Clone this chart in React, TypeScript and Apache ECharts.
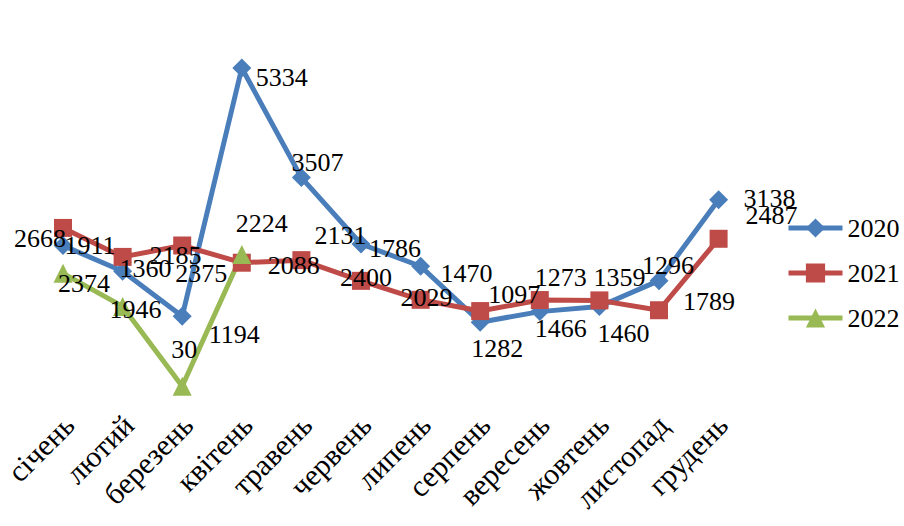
import React, { useEffect, useRef } from "react";
import * as echarts from "echarts";

const months = ["січень", "лютий", "березень", "квітень", "травень", "червень", "липень", "серпень", "вересень", "жовтень", "листопад", "грудень"];
const values2020 = [2374, 1946, 1194, 5334, 3507, 2400, 2029, 1097, 1273, 1359, 1789, 3138];
const values2021 = [2668, 2185, 2375, 2088, 2131, 1786, 1470, 1282, 1466, 1460, 1296, 2487];
const values2022 = [1911, 1360, 30, 2224];

// label placement offsets (px) relative to each point
const offsets2020 = [[21, 38], [13, 38], [52, 18], [40, 10], [16, -15], [5, 33], [6, 31], [34, -28], [21, -34], [20, -29], [50, 21], [51, -1]];
const offsets2021 = [[-23, 11], [53, -1], [19, 28], [52, 3], [39, -25], [34, -32], [46, -26], [17, 37], [21, 28], [24, 33], [9, -45], [53, -23]];
const offsets2022 = [[27, -28], [23, -38], [2, -37], [20, -31]];

const FONT = "'Liberation Serif', 'Times New Roman', serif";

function mk(vals: number[], offs: number[][]) {
  return vals.map((v, i) => ({ value: v, label: { offset: offs[i] } }));
}

export default function App() {
  const ref = useRef<HTMLDivElement>(null);
  useEffect(() => {
    if (!ref.current) return;
    const chart = echarts.init(ref.current, null, { renderer: "svg" });
    const lbl = {
      show: true,
      position: "inside",
      fontFamily: FONT,
      fontSize: 26,
      color: "#000",
    };
    chart.setOption({
      animation: false,
      backgroundColor: "#fff",
      grid: [
        { left: 33.2, width: 715.2, top: 28, height: 360 },
        { left: 37, width: 715.2, top: 400, height: 20 },
      ],
      xAxis: [
        {
          type: "category",
          gridIndex: 0,
          data: months,
          boundaryGap: true,
          axisLine: { show: false },
          axisTick: { show: false },
          axisLabel: { show: false },
        },
        {
          type: "category",
          gridIndex: 1,
          data: months,
          boundaryGap: true,
          axisLine: { show: false },
          axisTick: { show: false },
          axisLabel: {
            show: true,
            rotate: 45,
            margin: 0,
            interval: 0,
            fontFamily: FONT,
            fontSize: 30,
            color: "#000",
          },
        },
      ],
      yAxis: [
        { type: "value", gridIndex: 0, min: 0, max: 6000, show: false },
        { type: "value", gridIndex: 1, min: 0, max: 1, show: false },
      ],
      legend: {
        orient: "vertical",
        left: 786,
        top: 213,
        padding: 0,
        itemWidth: 54,
        itemHeight: 24,
        itemGap: 15,
        lineStyle: { width: 5 },
        textStyle: { fontFamily: FONT, fontSize: 26, color: "#000", lineHeight: 30 },
        data: ["2020", "2021", "2022"],
      },
      series: [
        {
          name: "2020",
          type: "line",
          data: mk(values2020, offsets2020),
          symbol: "diamond",
          symbolSize: 19,
          lineStyle: { width: 5, color: "#4A7EBB" },
          itemStyle: { color: "#4A7EBB" },
          label: lbl,
        },
        {
          name: "2021",
          type: "line",
          data: mk(values2021, offsets2021),
          symbol: "rect",
          symbolSize: 18,
          lineStyle: { width: 5, color: "#BE4B48" },
          itemStyle: { color: "#BE4B48" },
          label: lbl,
        },
        {
          name: "2022",
          type: "line",
          data: mk(values2022, offsets2022),
          symbol: "triangle",
          symbolSize: 19,
          lineStyle: { width: 5, color: "#98B954" },
          itemStyle: { color: "#98B954" },
          label: lbl,
        },
      ],
    });
    return () => chart.dispose();
  }, []);
  return (
    <div
      ref={ref}
      style={{ position: "absolute", left: 0, top: 0, width: 904, height: 526 }}
    />
  );
}
